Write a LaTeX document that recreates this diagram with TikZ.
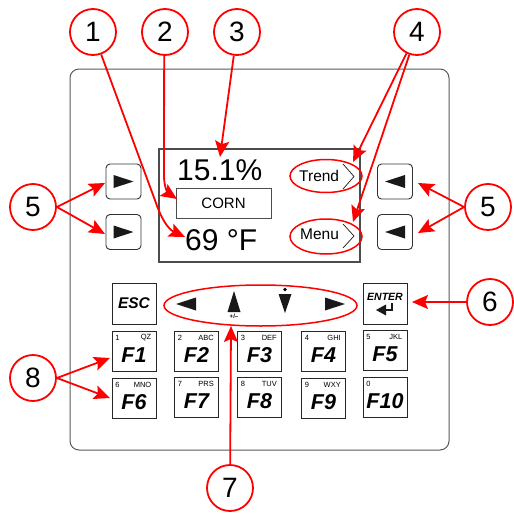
\documentclass[tikz,border=0pt]{standalone}
\usepackage{fontspec}
\setmainfont{Liberation Sans}
\usetikzlibrary{arrows.meta,shapes.geometric}
\begin{document}
\begin{tikzpicture}[x=1pt,y=-1pt,
  callout/.style={circle,draw=red,line width=1.8pt,minimum size=46pt,inner sep=0pt,fill=white,font=\fontsize{28}{28}\selectfont},
  arr/.style={red,line width=1.8pt,-{Stealth[length=16pt,width=14pt,inset=3pt]}},
  sidekey/.style={draw=black!80,rounded corners=4pt,line width=0.9pt,fill=white,minimum width=35pt,minimum height=35pt,inner sep=0pt},
  fkey/.style={draw=black!85,line width=1pt,fill=white,minimum width=44pt,minimum height=40pt,inner sep=0pt},
  halo/.style={ellipse,draw=red,line width=1.5pt,inner sep=0pt},
  tri/.style={fill=black!90},
  chev/.style={black!90,line width=0.7pt},
  small/.style={font=\fontsize{7.5}{8}\selectfont,inner sep=0pt},
  big/.style={font=\fontsize{30}{30}\selectfont,inner sep=0pt},
  mid/.style={font=\fontsize{15.5}{16}\selectfont,inner sep=0pt}]
\useasboundingbox (0,0) rectangle (514,514);

% panel
\draw[black!65,line width=1pt,rounded corners=9pt] (70,69) rectangle (449,450);

% screen
\node[draw=black!70,line width=1.2pt,minimum width=201pt,minimum height=113pt,inner sep=0pt] (screen) at (259.5,205.5) {};
\node[big,anchor=base west] (pct) at (177,180) {15.1\%};
\node[draw=black!70,line width=1pt,minimum width=95pt,minimum height=30pt,inner sep=0pt,font=\fontsize{15}{15}\selectfont] (corn) at (223.5,203) {CORN};
\node[big,anchor=base west] (temp) at (185,250) {69 °F};
\node[mid,anchor=base west] (trend) at (299,181) {Trend};
\node[mid,anchor=base west] (menu) at (300,239) {Menu};
\draw[chev] (343,164) -- (354,176.5) -- (343,189);
\draw[chev] (343,224) -- (354,236) -- (343,248);
\node[halo,minimum width=72pt,minimum height=33pt] (etrend) at (326,176) {};
\node[halo,minimum width=72pt,minimum height=35pt] (emenu) at (326,236.5) {};

% side keys
\node[sidekey] (bl1) at (123.5,181.5) {};
\node[sidekey] (bl2) at (123.5,232) {};
\node[sidekey] (br1) at (395,181.5) {};
\node[sidekey] (br2) at (395,232) {};
\fill[tri,shift={(bl1.center)}] (-10,-6.5) -- (-10,6.5) -- (10,0) -- cycle;
\fill[tri,shift={(bl2.center)}] (-10,-6.5) -- (-10,6.5) -- (10,0) -- cycle;
\fill[tri,shift={(br1.center)}] (10,-6.5) -- (10,6.5) -- (-10,0) -- cycle;
\fill[tri,shift={(br2.center)}] (10,-6.5) -- (10,6.5) -- (-10,0) -- cycle;

% ESC / ENTER
\node[fkey,minimum height=41pt,font=\bfseries\itshape\fontsize{15.5}{16}\selectfont] (esc) at (134,303.5) {ESC};
\node[fkey,minimum height=41pt] (enter) at (385,303.5) {};
\node[font=\bfseries\itshape\fontsize{10.5}{11}\selectfont,inner sep=0pt] (entertxt) at (385,297) {ENTER};
\fill[black!90] (376,310) -- (386,304.5) -- (386,315.5) -- cycle;
\draw[black!90,line width=2.6pt] (385,310) -- (392,310) -- (392,302.5);

% arrow keys
\node[halo,minimum width=193pt,minimum height=41pt] (arrows) at (260.5,305.5) {};
\fill[tri] (176,304) -- (196,297.5) -- (196,310.5) -- cycle;
\fill[tri] (234,291) -- (227.5,312) -- (240.5,312) -- cycle;
\fill[tri] (285,313) -- (278.5,294) -- (291.5,294) -- cycle;
\fill[tri] (345,304) -- (325,297.5) -- (325,310.5) -- cycle;
\fill (285,289.5) circle (1.8pt);
\node[font=\bfseries\fontsize{6}{6}\selectfont,inner sep=0pt] (pm) at (234,316) {+/\textendash};

% function keys
\foreach \px/\py/\nm/\num/\lts/\kid in {134/351/F1/1/QZ/k1, 196.5/351/F2/2/ABC/k2, 259.5/351/F3/3/DEF/k3, 323.5/351/F4/4/GHI/k4, 385/350/F5/5/JKL/k5, 134/398.5/F6/6/MNO/k6, 196.5/397.5/F7/7/PRS/k7, 259.5/397.5/F8/8/TUV/k8, 323.5/398/F9/9/WXY/k9, 385/397.5/F10/0/{}/k10}{
  \node[fkey] (\kid) at (\px,\py) {};
  \node[small,anchor=center] (\kid n) at ([xshift=6pt,yshift=-7pt]\kid.north west) {\num};
  \node[small,anchor=east] (\kid l) at ([xshift=-5pt,yshift=-7pt]\kid.north east) {\lts};
  \node[font=\bfseries\itshape\fontsize{21.5}{22}\selectfont,inner sep=0pt] (\kid t) at ([yshift=-4pt]\kid.center) {\nm};
}

% callouts
\node[callout] (c1) at (93,32) {1};
\node[callout] (c2) at (165,32) {2};
\node[callout] (c3) at (237,32) {3};
\node[callout] (c4) at (417,32) {4};
\node[callout] (c5l) at (33,207) {5};
\node[callout] (c5r) at (488,207) {5};
\node[callout] (c6) at (490,302) {6};
\node[callout] (c7) at (230,488) {7};
\node[callout] (c8) at (33,378) {8};

\coordinate (t1) at (185,237);
\coordinate (t2) at (177,199);
\coordinate (t3) at (220,157);
\coordinate (t4a) at (353,162);
\coordinate (t4b) at (353,222);
\coordinate (t5a) at (105,183);
\coordinate (t5b) at (105,234);
\coordinate (t5c) at (418,183);
\coordinate (t5d) at (418,233);
\coordinate (t6) at (412,302);
\coordinate (t7) at (231,326);
\coordinate (t8a) at (110,358);
\coordinate (t8b) at (110,398);

\draw[arr] (c1.-70) -- (156,203) .. controls (161,218) and (168,229) .. (t1);
\draw[arr] (c2.-92) -- (164,176) .. controls (164,187) and (168,193) .. (t2);
\draw[arr] (c3) -- (t3);
\draw[arr] (c4) -- (t4a);
\draw[arr] (c4) -- (t4b);
\draw[arr] (c5l.east) -- (t5a);
\draw[arr] (c5l.east) -- (t5b);
\draw[arr] (c5r.west) -- (t5c);
\draw[arr] (c5r.west) -- (t5d);
\draw[arr] (c6) -- (t6);
\draw[arr] (c7) -- (t7);
\draw[arr] (c8.east) -- (t8a);
\draw[arr] (c8.east) -- (t8b);
\end{tikzpicture}
\end{document}
